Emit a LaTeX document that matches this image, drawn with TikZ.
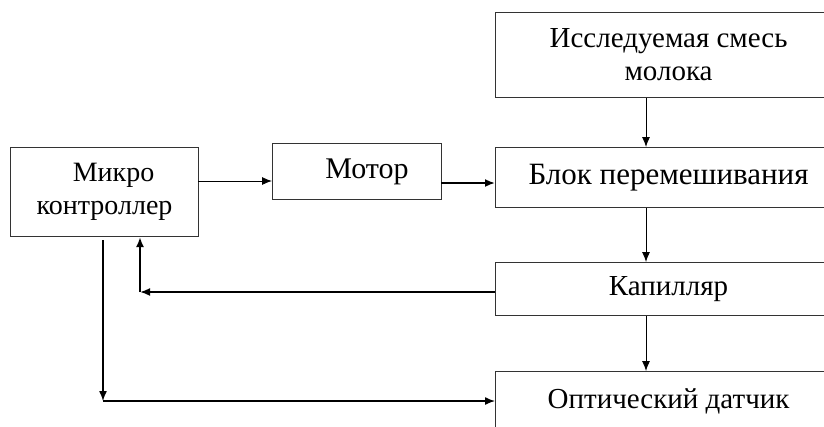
\documentclass[tikz,border=0pt]{standalone}
\usepackage{fontspec}
\setmainfont{Liberation Serif}
\usetikzlibrary{arrows.meta}

\tikzset{
  blk/.style={draw=black!80, line width=1.1pt, anchor=north west, align=center,
    font=\fontsize{29}{33}\selectfont, inner sep=0pt},
  arr/.style={-{Latex[length=10pt,width=8pt]}, line width=0.9pt},
  thickarr/.style={arr, line width=1.8pt}
}

\begin{document}
\begin{tikzpicture}[x=1pt,y=-1pt]
\clip (0,0) rectangle (824,426);

% left part
\node[blk, minimum width=188pt, minimum height=89pt, font=\fontsize{28}{33}\selectfont] (micro) at (10,147) {\hspace*{18pt}Микро\\контроллер};
\node[blk, minimum width=169pt, minimum height=56pt, font=\fontsize{30}{33}\selectfont] (motor) at (272,143) {\hspace*{20pt}Мотор};

% right column
\node[blk, minimum width=346pt, minimum height=85pt] (sample) at (495,12) {Исследуемая смесь\\молока};
\node[blk, minimum width=346pt, minimum height=60pt, font=\fontsize{31}{33}\selectfont] (mixer) at (495,147) {Блок перемешивания};
\node[blk, minimum width=346pt, minimum height=53pt] (capil) at (495,262) {Капилляр};
\node[blk, minimum width=346pt, minimum height=60pt] (optic) at (495,371) {Оптический датчик};

% connectors
\coordinate (m1) at (198,181);
\coordinate (m2) at (272,181);
\coordinate (m3) at (441,183);
\coordinate (m4) at (495,183);
\draw[arr] (m1) -- (m2);
\draw[thickarr] (m3) -- (m4);

\draw[arr] (sample.south -| 646,0) -- (mixer.north -| 646,0);
\draw[arr] (mixer.south -| 646,0) -- (capil.north -| 646,0);
\draw[arr] (capil.south -| 646,0) -- (optic.north -| 646,0);

\coordinate (fb) at (140,292);
\draw[thickarr] (capil.west |- fb) -- (fb);
\draw[arr, line width=1.8pt] (fb) -- (micro.south -| fb);

\coordinate (dn) at (103,240);
\coordinate (cn) at (103,401);
\draw[arr, line width=1.4pt] (dn) -- (cn);
\draw[arr, line width=1.4pt] (cn) -- (optic.west |- cn);
\end{tikzpicture}
\end{document}
